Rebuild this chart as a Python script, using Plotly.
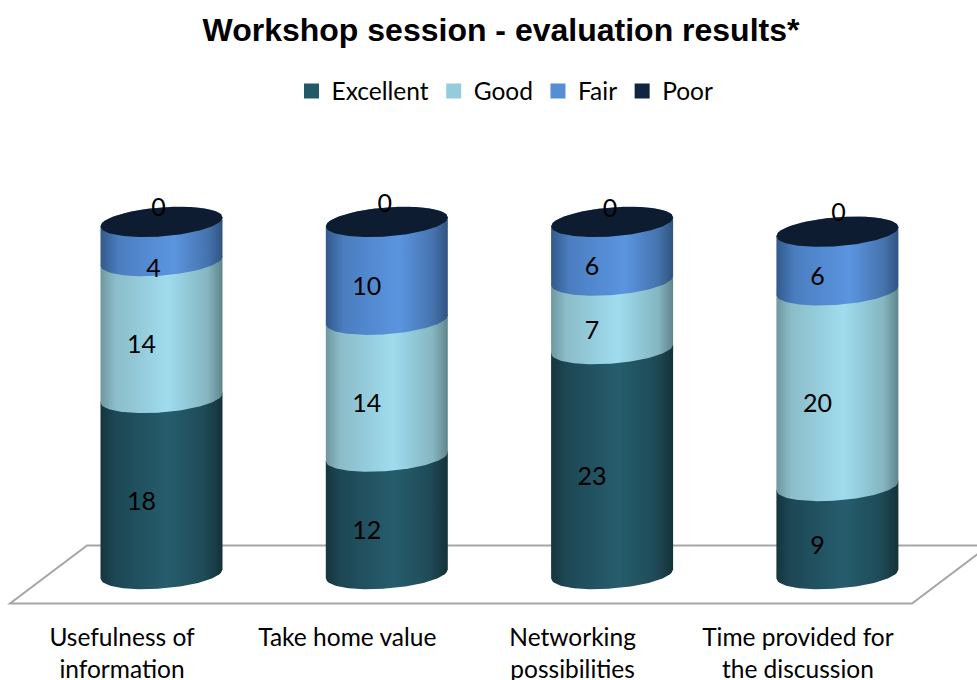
import numpy as np
import plotly.graph_objects as go

# Data
categories = ["Usefulness of<br>information", "Take home value",
              "Networking<br>possibilities", "Time provided for<br>the discussion"]
excellent = [18, 12, 23, 9]
good = [14, 14, 7, 20]
fair = [4, 10, 6, 6]
poor = [0, 0, 0, 0]
series_names = ["Excellent", "Good", "Fair", "Poor"]

# Styles
legend_colors = ["#215968", "#93cddd", "#558ed5", "#10253f"]
gradients = [
    [[0, "#16353e"], [0.12, "#1d4754"], [0.55, "#265d6d"], [0.85, "#1f4b58"], [1, "#14323a"]],
    [[0, "#6f979f"], [0.12, "#8bbcc8"], [0.55, "#9fdcee"], [0.88, "#85b5c0"], [1, "#5f858c"]],
    [[0, "#33598a"], [0.15, "#4a7ec0"], [0.6, "#5b95e0"], [0.88, "#4673ad"], [1, "#2f5482"]],
    [[0, "#0d1c30"], [1, "#0d1c30"]],
]

W, H = 977, 680
PX_X = 225.3      # pixels per category
PX_Y = 9.78       # pixels per unit
X0_PX, Y0_PX = 161.5, 574
TOP, BOTTOM = 100, 610
half_w = 61 / PX_X
ell_h = 14.5 / PX_Y
ell_skew = 4.5 / PX_Y

x_range = [-X0_PX / PX_X, (W - X0_PX) / PX_X]
y_range = [(Y0_PX - BOTTOM) / PX_Y, (Y0_PX - TOP) / PX_Y]

u = np.linspace(-1, 1, 81)
round_part = np.sqrt(1 - u ** 2)


def segment(center, low, high):
    # body of one cylinder piece: front arc of the bottom, back arc of the top
    xs = center + half_w * u
    front = low + ell_skew * u - ell_h * round_part
    back = high + ell_skew * u + ell_h * round_part
    return np.r_[xs, xs[::-1]], np.r_[front, back[::-1]]


fig = go.Figure()

series = [excellent, good, fair, poor]
base = np.zeros(len(categories))
label_x, label_y, label_text = [], [], []
# hand placed labels in the original, offsets in pixels
nudge = {(0, 2): (12, 12), (0, 3): (17, -30), (1, 3): (18, -34), (2, 3): (18, -29), (3, 3): (21, -34)}

for s, values in enumerate(series):
    for c, v in enumerate(values):
        xs, ys = segment(c, base[c], base[c] + v)
        fig.add_trace(go.Scatter(x=xs, y=ys, mode="lines", line=dict(width=0), fill="toself",
                                 fillgradient=dict(type="horizontal", colorscale=gradients[s]),
                                 showlegend=False, hoverinfo="skip"))
        dx, dy = nudge.get((c, s), (0, 0))
        label_x.append(c + (-20 + dx) / PX_X)
        label_y.append(base[c] + v / 2 - ell_h - (3 + dy) / PX_Y)
        label_text.append(str(v))
    base += np.array(values)

# legend entries
for name, color in zip(series_names, legend_colors):
    fig.add_trace(go.Scatter(x=[None], y=[None], mode="markers", name=name,
                             marker=dict(symbol="square", size=15, color=color)))

fig.add_trace(go.Scatter(x=label_x, y=label_y, mode="text", text=label_text, showlegend=False,
                         textposition="middle center", hoverinfo="skip",
                         textfont=dict(family="Lato", size=25, color="#000000")))


def fx(px):
    return (px - X0_PX) / PX_X


def fy(px):
    return (Y0_PX - px) / PX_Y


# floor of the 3D chart
floor = (f"M {fx(10)} {fy(603.5)} L {fx(912)} {fy(603.5)} L {fx(989)} {fy(545.5)} "
         f"L {fx(87)} {fy(545.5)} Z")
fig.add_shape(type="path", path=floor, xref="x", yref="y", layer="below",
              line=dict(color="#a6a6a6", width=2))

fig.update_layout(
    width=W,
    height=H,
    margin=dict(l=0, r=0, t=TOP, b=H - BOTTOM, autoexpand=False),
    paper_bgcolor="white",
    plot_bgcolor="white",
    font=dict(family="Lato", size=24.5, color="#000000"),
    title=dict(text="<b>Workshop session - evaluation results*</b>", x=501 / W,
               xanchor="center", y=1 - 30 / H, yanchor="middle",
               font=dict(family="Liberation Sans", size=32, color="#000000")),
    legend=dict(orientation="h", x=505 / W, xanchor="center",
                y=(BOTTOM - 91) / (BOTTOM - TOP), yanchor="middle",
                font=dict(family="Lato", size=24.5), itemclick=False),
    xaxis=dict(range=x_range, tickmode="array",
               tickvals=[c - 39.5 / PX_X for c in range(len(categories))], ticktext=categories,
               showgrid=False, zeroline=False, showline=False, ticks="outside", ticklen=6,
               tickcolor="rgba(0,0,0,0)", tickangle=0, tickfont=dict(family="Lato", size=24.5)),
    yaxis=dict(range=y_range, visible=False, showgrid=False, zeroline=False),
)

# the page's default body margin would push the figure off by 8px
fig.write_html("out.html", config={"displayModeBar": False},
               post_script="document.body.style.margin='0';")
